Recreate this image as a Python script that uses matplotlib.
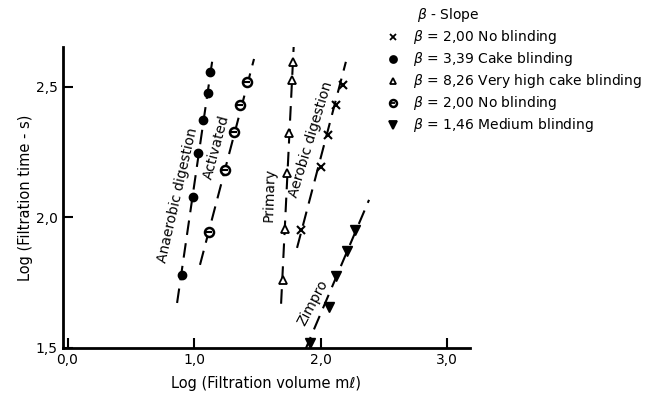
import matplotlib.pyplot as plt

# log volume / log time
anaerobic_x = [0.905, 0.992, 1.032, 1.071, 1.111, 1.126]
anaerobic_y = [1.780, 2.079, 2.247, 2.374, 2.477, 2.557]
anaerobic_line = ([0.866, 1.150], [1.672, 2.620])

activated_x = [1.119, 1.245, 1.316, 1.364, 1.419]
activated_y = [1.944, 2.182, 2.328, 2.431, 2.519]
activated_line = ([1.047, 1.474], [1.818, 2.607])

primary_x = [1.704, 1.719, 1.735, 1.751, 1.775, 1.783]
primary_y = [1.761, 1.956, 2.170, 2.324, 2.527, 2.596]
primary_line = ([1.688, 1.790], [1.669, 2.680])

aerobic_x = [1.846, 2.004, 2.059, 2.123, 2.178]
aerobic_y = [1.952, 2.193, 2.316, 2.431, 2.508]
aerobic_line = ([1.814, 2.200], [1.883, 2.596])

zimpro_x = [1.917, 2.067, 2.123, 2.209, 2.273]
zimpro_y = [1.519, 1.657, 1.776, 1.872, 1.952]
zimpro_line = ([1.877, 2.383], [1.490, 2.067])

x_ticks = [0.0, 1.0, 2.0, 3.0]
y_ticks = [1.5, 2.0, 2.5]

legend_rows = [
    ('x', 'black', '= 2,00 No blinding'),
    ('o', 'black', '= 3,39 Cake blinding'),
    ('^', 'white', '= 8,26 Very high cake blinding'),
    ('o', 'grey', '= 2,00 No blinding'),
    ('v', 'black', '= 1,46 Medium blinding'),
]

plt.rcParams['font.family'] = 'DejaVu Sans'
fig = plt.figure(figsize=(6.49, 3.98), dpi=100)
ax = fig.add_axes([0.097, 0.126, 0.627, 0.756])

dash = dict(color='black', lw=1.5, dashes=(7, 4))

# the dashed fit lines
for xs, ys in [anaerobic_line, activated_line, primary_line, aerobic_line, zimpro_line]:
    ax.plot(xs, ys, **dash)

# points
ax.plot(anaerobic_x, anaerobic_y, 'o', color='black', ms=6)
ax.plot(activated_x, activated_y, 'o', mfc='white', mec='black', mew=1.8, ms=6.5)
ax.plot(activated_x, activated_y, '_', color='black', ms=4, mew=1.5)
ax.plot(primary_x, primary_y, '^', mfc='white', mec='black', mew=1.3, ms=6)
ax.plot(aerobic_x, aerobic_y, 'x', color='black', mew=1.5, ms=6)
ax.plot(zimpro_x, zimpro_y, 'v', color='black', ms=7, clip_on=False)

# curve labels along the lines
lab = dict(fontsize=10, ha='center', va='center', rotation_mode='anchor')
ax.text(0.874, 2.086, 'Anaerobic digestion', rotation=77, **lab)
ax.text(1.18, 2.27, 'Activated', rotation=75, **lab)
ax.text(1.60, 2.086, 'Primary', rotation=88, **lab)
ax.text(1.925, 2.30, 'Aerobic digestion', rotation=73, **lab)
ax.text(1.94, 1.672, 'Zimpro', rotation=62, **lab)

ax.set_xlim(-0.036, 3.18)
ax.set_ylim(1.5, 2.653)
ax.set_xticks(x_ticks)
ax.set_xticklabels([f'{t:.1f}'.replace('.', ',') for t in x_ticks])
ax.set_yticks(y_ticks)
ax.set_yticklabels([f'{t:.1f}'.replace('.', ',') for t in y_ticks])
ax.tick_params(direction='in', length=7, width=1.5, labelsize=10, pad=4)
for side in ['top', 'right']:
    ax.spines[side].set_visible(False)
for side in ['left', 'bottom']:
    ax.spines[side].set_linewidth(2)

ax.set_xlabel('Log (Filtration volume mℓ)', fontsize=10.5, labelpad=6)
ax.set_ylabel('Log (Filtration time - s)', fontsize=10.5, labelpad=2)

# legend drawn by hand in figure coords
fig.text(417 / 649, 1 - 15 / 398, r'$\beta$ - Slope', fontsize=10, va='center')
for i, (mk, face, txt) in enumerate(legend_rows):
    yy = 1 - (37 + 22 * i) / 398
    ms = 5 if mk != 'v' else 6
    if face == 'grey':
        ax.plot([393 / 649], [yy], 'o', mfc='white', mec='black', mew=1.8, ms=5,
                transform=fig.transFigure, clip_on=False)
        ax.plot([393 / 649], [yy], '_', color='black', ms=3, mew=1.3,
                transform=fig.transFigure, clip_on=False)
    elif mk == 'x':
        ax.plot([393 / 649], [yy], 'x', color='black', mew=1.3, ms=5,
                transform=fig.transFigure, clip_on=False)
    else:
        ax.plot([393 / 649], [yy], mk, mfc=face, mec='black', mew=1.3, ms=ms,
                transform=fig.transFigure, clip_on=False)
    fig.text(413 / 649, yy, r'$\beta$ ' + txt, fontsize=10, va='center')

fig.savefig('out.png', dpi=100)
